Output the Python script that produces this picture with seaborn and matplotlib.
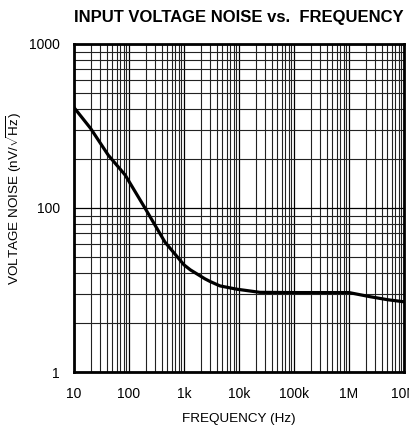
import matplotlib
matplotlib.use("Agg")
import matplotlib.pyplot as plt
import seaborn as sns
import pandas as pd
from matplotlib.ticker import LogLocator, NullFormatter, FixedLocator

# Data
freq_hz = [10, 20, 42, 85, 195, 450, 1000, 1300, 2400, 3000, 4500, 9000, 24000, 100000, 1000000, 2400000, 5000000, 10000000]
noise_nv = [410, 306, 210, 159, 100, 62, 45, 42, 37, 35.6, 33.5, 32, 30.6, 30.5, 30.5, 28.8, 27.6, 26.8]

x_ticks = [10, 100, 1000, 10000, 100000, 1000000, 10000000]
x_tick_labels = ["10", "100", "1k", "10k", "100k", "1M", "10M"]
y_ticks = [10, 100, 1000]
y_tick_labels = ["1", "100", "1000"]

title = "INPUT VOLTAGE NOISE vs.  FREQUENCY"
x_label = "FREQUENCY (Hz)"
y_label = r"VOLTAGE NOISE (nV/$\sqrt{\mathrm{Hz}}$)"

sns.set_theme(style="white")
plt.rcParams["font.family"] = ["Liberation Sans", "DejaVu Sans"]
plt.rcParams["mathtext.fontset"] = "custom"
plt.rcParams["mathtext.rm"] = "Liberation Sans"
plt.rcParams["mathtext.it"] = "Liberation Sans:italic"
plt.rcParams["mathtext.bf"] = "Liberation Sans:bold"

df = pd.DataFrame({"freq": freq_hz, "noise": noise_nv})

fig = plt.figure(figsize=(4.09, 4.30), dpi=100)
ax = fig.add_axes([74 / 409, 1 - 372 / 430, 330 / 409, 328 / 430])

sns.lineplot(data=df, x="freq", y="noise", color="black", linewidth=2.3, ax=ax, zorder=5)

ax.set_xscale("log")
ax.set_yscale("log")
ax.set_xlim(10, 1e7)
ax.set_ylim(10, 1000)

ax.xaxis.set_major_locator(FixedLocator(x_ticks))
ax.set_xticklabels(x_tick_labels)
ax.yaxis.set_major_locator(FixedLocator(y_ticks))
ax.set_yticklabels(y_tick_labels)
ax.xaxis.set_minor_locator(LogLocator(base=10, subs=range(2, 10), numticks=100))
ax.yaxis.set_minor_locator(LogLocator(base=10, subs=range(2, 10), numticks=100))
ax.xaxis.set_minor_formatter(NullFormatter())
ax.yaxis.set_minor_formatter(NullFormatter())

ax.grid(True, which="major", color="black", linewidth=0.9)
ax.grid(True, which="minor", color="#222222", linewidth=0.8)
ax.tick_params(which="both", length=0, labelsize=10, colors="black")
ax.tick_params(axis="x", pad=10.5)
ax.tick_params(axis="y", pad=10)

for s in ax.spines.values():
    s.set_visible(True)
    s.set_color("black")
    s.set_linewidth(2.0)

ax.set_xlabel(x_label, fontsize=9.7, labelpad=9, color="black")
ax.set_ylabel(y_label, fontsize=9.7, color="black")
ax.yaxis.set_label_coords(-0.15, 0.53)
ax.set_title(title, fontsize=12, fontweight="bold", pad=16, color="black")

fig.savefig("out.png", dpi=100)
